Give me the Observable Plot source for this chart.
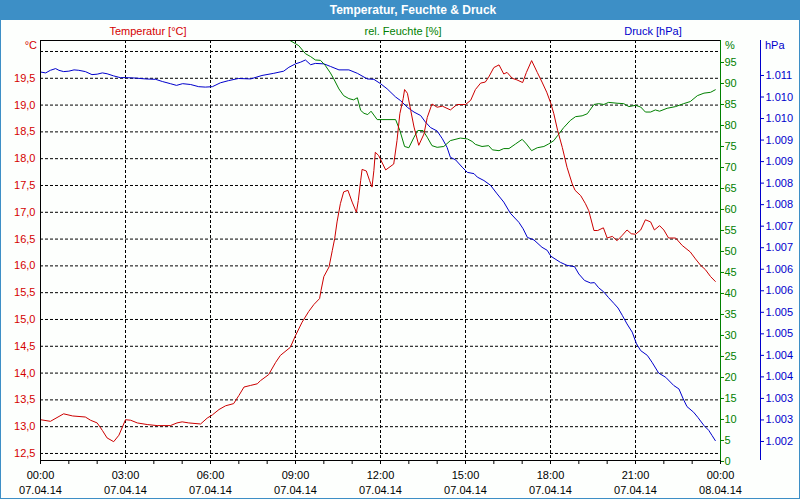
<!DOCTYPE html>
<html><head><meta charset="utf-8">
<script src="https://cdn.jsdelivr.net/npm/d3@7"></script>
<script src="https://cdn.jsdelivr.net/npm/@observablehq/plot@0.6"></script>
<style>
html,body{margin:0;padding:0;background:#fff;}
#wrap{position:relative;width:800px;height:500px;background:#fdfffd;overflow:hidden;font-family:"Liberation Sans",Arial,sans-serif;}
#titlebar{position:absolute;left:0;top:0;width:800px;height:20px;background:#3d8fc6;}
#title{position:absolute;left:413px;top:0;transform:translateX(-50%);color:#fff;font-weight:bold;font-size:12px;line-height:20px;white-space:nowrap;}
#border{position:absolute;left:0;top:0;width:798px;height:497px;border:1px solid #3d8fc6;pointer-events:none;}
.lbl{position:absolute;font-size:11px;line-height:13px;white-space:nowrap;}
.c{transform:translateX(-50%);}
#chart{position:absolute;left:0;top:20px;}
</style>
</head><body>
<div id="wrap">
  <div id="titlebar"><span id="title">Temperatur, Feuchte &amp; Druck</span></div>
  <div class="lbl c" style="left:148px;top:25px;color:#d40000">Temperatur [°C]</div>
  <div class="lbl c" style="left:403px;top:25px;color:#008000">rel. Feuchte [%]</div>
  <div class="lbl c" style="left:653px;top:25px;color:#0000cc">Druck [hPa]</div>
  <div class="lbl" style="right:763px;top:39px;color:#d40000">°C</div>
  <div class="lbl" style="left:725px;top:39px;color:#008000">%</div>
  <div class="lbl" style="left:765px;top:39px;color:#0000cc">hPa</div>
  <div id="chart"></div>
  <div id="border"></div>
</div>
<script>
// ---- data (minutes after 07.04.14 00:00, value) ----
const dayStart = "2014-04-07T00:00:00Z";
const dayEnd = "2014-04-08T00:00:00Z";

const temperature = [
[0,13.13],[21,13.10],[49,13.24],[68,13.20],[95,13.18],[106,13.12],[120,13.07],[131,12.93],[141,12.79],[155,12.72],[166,12.84],[180,13.13],[191,13.12],[205,13.07],[226,13.04],[247,13.02],[275,13.02],[289,13.07],[300,13.09],[314,13.07],[339,13.05],[353,13.16],[364,13.22],[378,13.32],[392,13.39],[409,13.43],[420,13.58],[431,13.74],[445,13.77],[459,13.80],[466,13.86],[483,13.97],[498,14.20],[508,14.33],[529,14.48],[540,14.70],[554,14.95],[568,15.15],[579,15.28],[591,15.39],[594,15.54],[600,15.80],[611,15.98],[618,16.29],[623,16.51],[628,16.82],[635,17.16],[642,17.38],[651,17.41],[660,17.19],[669,17.00],[673,17.22],[678,17.59],[681,17.80],[690,17.77],[697,17.59],[702,17.47],[706,17.78],[709,18.12],[716,18.06],[731,17.79],[748,17.90],[755,18.34],[761,18.84],[768,19.12],[771,19.29],[777,19.22],[784,18.90],[791,18.59],[801,18.25],[812,18.46],[819,18.77],[829,19.02],[840,18.96],[851,18.98],[868,18.91],[882,19.01],[900,19.01],[911,19.09],[921,19.29],[932,19.41],[942,19.43],[949,19.52],[960,19.70],[971,19.75],[981,19.58],[988,19.61],[999,19.50],[1009,19.47],[1021,19.42],[1029,19.61],[1040,19.83],[1052,19.61],[1062,19.43],[1072,19.24],[1080,19.05],[1087,18.84],[1095,18.53],[1105,18.21],[1115,17.84],[1126,17.53],[1132,17.41],[1144,17.31],[1154,17.16],[1161,17.03],[1172,16.66],[1180,16.66],[1192,16.71],[1200,16.52],[1211,16.55],[1221,16.47],[1232,16.57],[1242,16.67],[1251,16.60],[1260,16.59],[1271,16.67],[1281,16.86],[1292,16.82],[1300,16.67],[1311,16.75],[1320,16.67],[1330,16.52],[1345,16.52],[1359,16.38],[1376,16.26],[1387,16.13],[1398,16.01],[1408,15.93],[1419,15.80],[1429,15.71]
];

const humidity = [
[529,100.2],[547,99.0],[561,97.1],[572,96.4],[582,95.6],[593,95.5],[603,94.3],[614,92.5],[621,91.1],[632,88.7],[642,87.1],[653,86.4],[663,86.1],[671,86.6],[678,83.6],[685,82.9],[693,82.6],[700,83.4],[713,81.4],[752,81.4],[761,78.8],[771,75.0],[780,74.7],[791,77.2],[799,78.8],[810,78.8],[819,77.2],[829,75.2],[840,74.8],[854,75.0],[868,76.4],[889,77.0],[904,76.8],[914,76.2],[921,75.5],[935,75.0],[949,75.2],[957,74.2],[971,74.0],[981,74.5],[992,74.5],[1006,75.6],[1020,76.7],[1029,75.6],[1040,74.0],[1052,74.7],[1066,75.0],[1076,75.6],[1087,76.4],[1095,77.6],[1108,79.5],[1122,81.2],[1133,82.1],[1147,82.3],[1158,82.8],[1163,83.6],[1172,85.0],[1182,85.2],[1193,85.0],[1203,85.5],[1221,85.3],[1235,85.2],[1246,84.5],[1260,84.8],[1271,84.4],[1281,83.2],[1292,83.2],[1302,83.7],[1311,83.4],[1327,84.1],[1345,84.5],[1362,85.2],[1376,85.7],[1391,87.1],[1405,87.7],[1419,87.9],[1429,88.5]
];

const pressure = [
[0,1010.58],[11,1010.56],[21,1010.62],[32,1010.66],[39,1010.62],[49,1010.59],[60,1010.60],[71,1010.63],[81,1010.62],[95,1010.59],[109,1010.52],[120,1010.53],[131,1010.56],[141,1010.54],[155,1010.49],[169,1010.45],[180,1010.45],[201,1010.44],[222,1010.42],[244,1010.41],[258,1010.36],[275,1010.31],[288,1010.27],[301,1010.31],[318,1010.29],[335,1010.24],[349,1010.23],[364,1010.24],[381,1010.33],[398,1010.38],[419,1010.43],[445,1010.42],[469,1010.50],[494,1010.55],[515,1010.60],[526,1010.69],[540,1010.77],[551,1010.81],[561,1010.86],[572,1010.75],[582,1010.78],[600,1010.77],[614,1010.71],[632,1010.63],[653,1010.63],[671,1010.55],[692,1010.42],[706,1010.41],[720,1010.31],[734,1010.19],[752,1010.00],[762,1009.92],[777,1009.76],[791,1009.65],[805,1009.57],[815,1009.42],[826,1009.29],[840,1009.21],[851,1009.03],[861,1008.83],[868,1008.60],[879,1008.54],[893,1008.37],[904,1008.25],[918,1008.22],[925,1008.14],[939,1008.06],[953,1007.95],[967,1007.75],[981,1007.56],[995,1007.30],[1013,1007.09],[1022,1006.94],[1031,1006.74],[1045,1006.68],[1062,1006.51],[1073,1006.44],[1081,1006.30],[1101,1006.16],[1115,1006.09],[1131,1006.06],[1140,1005.89],[1152,1005.74],[1165,1005.68],[1173,1005.69],[1182,1005.57],[1193,1005.47],[1203,1005.34],[1214,1005.21],[1223,1005.10],[1232,1004.93],[1242,1004.73],[1253,1004.54],[1262,1004.27],[1271,1004.11],[1285,1004.00],[1295,1003.84],[1309,1003.59],[1324,1003.49],[1341,1003.30],[1352,1003.22],[1361,1002.99],[1369,1002.81],[1383,1002.68],[1392,1002.56],[1405,1002.37],[1415,1002.26],[1422,1002.14],[1429,1002.02]
];

const tempTicks = [12.5,13.0,13.5,14.0,14.5,15.0,15.5,16.0,16.5,17.0,17.5,18.0,18.5,19.0,19.5];
const tempGrid = [12.5,13.0,13.5,14.0,14.5,15.0,15.5,16.0,16.5,17.0,17.5,18.0,18.5,19.0,19.5,20.0];
const humTicks = [0,5,10,15,20,25,30,35,40,45,50,55,60,65,70,75,80,85,90,95];
const pressTicks = [1002,1002.5,1003,1003.5,1004,1004.5,1005,1005.5,1006,1006.5,1007,1007.5,1008,1008.5,1009,1009.5,1010,1010.5];
const gridHours = [3,6,9,12,15,18,21];

// ---- rendering ----
const RED = "#cc0000", RED_TXT = "#d40000", GREEN = "#008000", BLUE = "#0000cc";
const t0 = new Date(dayStart), t1 = new Date(dayEnd);
const toDate = m => new Date(+t0 + m * 60000);
const de = d3.formatLocale({decimal: ",", thousands: ".", grouping: [3], currency: ["", " €"]});
const fmtT = de.format(".1f"), fmtP = de.format(",.0f");

// secondary axes mapped onto the temperature scale
const hToT = h => 12.5 + (4.2 * h - 8) / 53.6;
const tToH = t => ((t - 12.5) * 53.6 + 8) / 4.2;
const pToT = p => 12.5 + (12 + 43.06 * (p - 1002)) / 53.6;
const tToP = t => 1002 + ((t - 12.5) * 53.6 - 12) / 43.06;

const tData = temperature.map(([m, v]) => ({date: toDate(m), y: v}));
const hData = humidity.map(([m, v]) => ({date: toDate(m), y: hToT(v)}));
const pData = pressure.map(([m, v]) => ({date: toDate(m), y: pToT(v)}));

const hourTicks = d3.utcHour.range(t0, new Date(+t1 + 1));
const fHM = d3.utcFormat("%H:%M"), fDMY = d3.utcFormat("%d.%m.%y");

const gridStyle = {stroke: "#000", strokeOpacity: 1, strokeDasharray: "3,2", strokeWidth: 1};

const chart = Plot.plot({
  width: 800, height: 478,
  marginLeft: 40, marginRight: 80, marginTop: 20, marginBottom: 38,
  style: {fontFamily: "'Liberation Sans', Arial, sans-serif", fontSize: "11px", background: "transparent", overflow: "visible"},
  x: {type: "utc", domain: [t0, t1], axis: null, label: null},
  y: {domain: [12.369, 20.205], axis: null, label: null},
  marks: [
    Plot.gridX(gridHours.map(h => toDate(h * 60)), gridStyle),
    Plot.gridY(tempGrid, gridStyle),
    Plot.line(pData, {x: "date", y: "y", stroke: BLUE, strokeWidth: 1}),
    Plot.line(hData, {x: "date", y: "y", stroke: GREEN, strokeWidth: 1}),
    Plot.line(tData, {x: "date", y: "y", stroke: RED, strokeWidth: 1}),
    Plot.frame({stroke: "#000"}),
    Plot.ruleX([t1], {stroke: GREEN}),
    Plot.ruleX([t1], {stroke: BLUE, dx: 40}),
    Plot.axisX(hourTicks, {
      label: null, tickSize: 4, tickPadding: 4, lineHeight: 1.36, color: "#000",
      tickFormat: d => d.getUTCHours() % 3 === 0 ? fHM(d) + "\n" + fDMY(d) : ""
    }),
    Plot.axisY(tempTicks, {label: null, anchor: "left", tickSize: 0, tickPadding: 5, color: RED_TXT, tickFormat: fmtT}),
    Plot.axisY(humTicks.map(hToT), {label: null, anchor: "right", tickSize: 3, tickPadding: 1, color: GREEN,
      tickFormat: t => String(Math.round(tToH(t)))}),
    Plot.axisY(pressTicks.map(pToT), {label: null, anchor: "right", tickSize: 3, tickPadding: 2, dx: 40, color: BLUE,
      tickFormat: t => fmtP(Math.round(tToP(t) * 2) / 2)})
  ]
});
document.getElementById("chart").appendChild(chart);
</script>
</body></html>
